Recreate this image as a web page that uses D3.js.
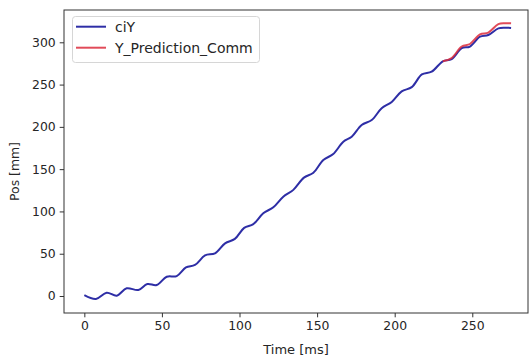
<!DOCTYPE html>
<html>
<head>
<meta charset="utf-8">
<script src="https://cdn.jsdelivr.net/npm/d3@7/dist/d3.min.js"></script>
<style>
  html, body { margin: 0; padding: 0; background: #fff; }
  svg { display: block; font-family: "DejaVu Sans", sans-serif; }
</style>
</head>
<body>
<svg id="chart" width="530" height="360"></svg>
<script>
// Measured position of the tracked point (ciY) over time
const timeMs = [0, 7.5, 14.4, 20.9, 27.3, 34.8, 40.6, 46.6, 53.1, 59.5, 65.5, 71.3, 77.8, 84.2,
  90.7, 97, 103, 108.9, 115.3, 121.8, 128.2, 134.7, 141.5, 147.6, 154, 160.4, 166.9, 172.3,
  178.7, 185.2, 191.6, 198.1, 204.5, 211, 217.5, 223.8, 231, 236.7, 243.2, 248.5, 255, 260.3,
  266.8, 271, 275];
const ciY = [1, -3.5, 3.9, 0.4, 9.1, 7.1, 14.2, 13, 22.8, 23.6, 33.9, 36.7, 48, 50.5,
  62.3, 67.5, 80.5, 85, 97.8, 104.9, 117.4, 125.5, 140, 145.8, 160.8, 167.9, 182.5, 188.4,
  202.2, 208.1, 222, 229.5, 242, 247, 262, 265.2, 277.5, 280, 293, 295, 306.6, 308.6,
  316.5, 317.3, 317];

// Predicted position over the final stretch
const predTimeMs = [231, 236.7, 243.2, 248.5, 255, 260.3, 266.8, 271, 275];
const yPredictionComm = [277.5, 281.5, 295, 298, 309.5, 311.5, 321.5, 322.5, 322.5];

const xTicks = [0, 50, 100, 150, 200, 250];
const yTicks = [0, 50, 100, 150, 200, 250, 300];
const seriesNames = ["ciY", "Y_Prediction_Comm"];
const seriesColors = ["#2e2ea6", "#dc2c3c"];

const plot = { left: 64, right: 528, top: 10, bottom: 313 };
const svg = d3.select("#chart");

const x = d3.scaleLinear().domain([-13.1, 285.9]).range([plot.left, plot.right]);
const y = d3.scaleLinear().domain([-20.1, 338.2]).range([plot.bottom, plot.top]);

const tickFont = 12.4;
const labelFont = 13;
const legendFont = 14;
const textColor = "#262626";

// Axes
const xAxis = svg.append("g")
  .attr("transform", `translate(0,${plot.bottom})`)
  .call(d3.axisBottom(x).tickValues(xTicks).tickFormat(d3.format("d")).tickSizeOuter(0).tickSize(4.3).tickPadding(4));
const yAxis = svg.append("g")
  .attr("transform", `translate(${plot.left},0)`)
  .call(d3.axisLeft(y).tickValues(yTicks).tickFormat(d3.format("d")).tickSizeOuter(0).tickSize(4.3).tickPadding(4));
[xAxis, yAxis].forEach(g => {
  g.select(".domain").remove();
  g.selectAll(".tick line").attr("stroke", "#333").attr("stroke-width", 1);
  g.selectAll(".tick text").attr("fill", textColor).attr("font-size", tickFont)
    .attr("font-family", "DejaVu Sans, sans-serif");
});

// Lines
const line = d3.line().curve(d3.curveCatmullRom.alpha(0.5));
const pts = (ts, vs) => ts.map((t, i) => [x(t), y(vs[i])]);

svg.append("path")
  .attr("d", line(pts(timeMs, ciY)))
  .attr("fill", "none").attr("stroke", seriesColors[0]).attr("stroke-width", 2);
svg.append("path")
  .attr("d", line(pts(predTimeMs, yPredictionComm)))
  .attr("fill", "none").attr("stroke", seriesColors[1]).attr("stroke-opacity", 0.85).attr("stroke-width", 2);

// Frame
svg.append("rect")
  .attr("x", plot.left).attr("y", plot.top)
  .attr("width", plot.right - plot.left).attr("height", plot.bottom - plot.top)
  .attr("fill", "none").attr("stroke", "#333").attr("stroke-width", 1);

// Axis titles
svg.append("text")
  .attr("x", (plot.left + plot.right) / 2).attr("y", 354)
  .attr("text-anchor", "middle").attr("font-size", labelFont).attr("fill", textColor)
  .text("Time [ms]");
svg.append("text")
  .attr("transform", `translate(19,${(plot.top + plot.bottom) / 2 + 10}) rotate(-90)`)
  .attr("text-anchor", "middle").attr("font-size", tickFont).attr("fill", textColor)
  .text("Pos [mm]");

// Legend
const legend = svg.append("g");
legend.append("rect")
  .attr("x", 72.5).attr("y", 16.5).attr("width", 187).attr("height", 46).attr("rx", 3)
  .attr("fill", "#fff").attr("fill-opacity", 0.8).attr("stroke", "#d6d6d6").attr("stroke-width", 1);
seriesNames.forEach((name, i) => {
  const cy = 26.7 + i * 21;
  legend.append("line")
    .attr("x1", 76).attr("x2", 106).attr("y1", cy).attr("y2", cy)
    .attr("stroke", seriesColors[i]).attr("stroke-width", 2)
    .attr("stroke-opacity", i === 1 ? 0.85 : 1);
  legend.append("text")
    .attr("x", 115).attr("y", cy).attr("dy", "0.35em")
    .attr("font-size", legendFont).attr("fill", textColor)
    .text(name);
});
</script>
</body>
</html>
